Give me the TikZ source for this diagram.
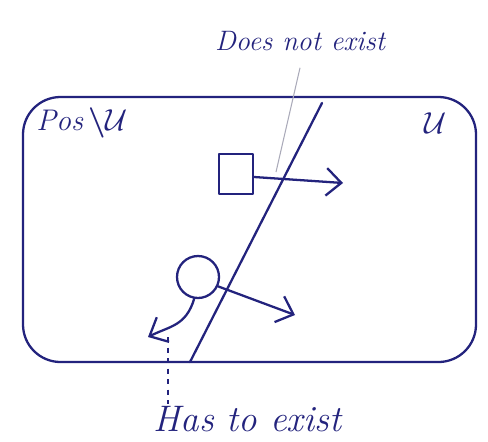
\documentclass[tikz,border=0pt]{standalone}
\usepackage{amsmath,amssymb}
\usepackage{tikz}
\usetikzlibrary{arrows.meta, positioning, calc}
\usepackage{xcolor}
\definecolor{inkblue}{RGB}{35,35,125}
\definecolor{pencilgray}{RGB}{170,170,185}

\begin{document}
\begin{tikzpicture}[
    ink/.style={draw=inkblue, line width=1.3pt, line cap=round, line join=round},
    arr/.style={ink, -{Straight Barb[length=3mm, width=5.5mm, line width=1.3pt]}},
    hand/.style={text=inkblue, font=\itshape\fontsize{#1}{#1}\selectfont, inner sep=1pt},
    hand/.default=17,
]
    \useasboundingbox (0,0) rectangle (9.76,8.82);

    % Region U with the excluded part
    \draw[ink, rounded corners=0.75cm] (0.46,6.88) rectangle (9.52,1.58);
    \node[hand] (posu) at (1.64,6.36) {Pos\,$\boldsymbol{\setminus}\mathcal{U}$};
    \node[hand=19] (uu) at (8.72,6.36) {$\mathcal{U}$};

    % Boundary line
    \coordinate (btop) at (6.44,6.76);
    \coordinate (bbot) at (3.80,1.58);
    \draw[ink] (btop) -- (bbot);

    % Square with arrow across the boundary
    \node[ink, rectangle, minimum width=0.68cm, minimum height=0.8cm] (sq) at (4.72,5.34) {};
    \coordinate (sqend) at (6.86,5.16);
    \draw[arr] (sq.east) ++(0,-0.06) -- (sqend);

    % Ball with two arrows
    \node[ink, circle, minimum size=0.84cm, inner sep=0pt] (ball) at (3.96,3.28) {};
    \coordinate (ballend) at (5.90,2.52);
    \coordinate (backend) at (2.96,2.08);
    \draw[arr] (ball.-25) -- (ballend);
    \draw[arr] (ball.-100) .. controls (3.72,2.30) and (3.40,2.30) .. (backend);

    % Labels
    \node[hand=16] (dne) at (6.0,8.0) {Does not exist};
    \coordinate (dnept) at (5.52,5.38);
    \draw[pencilgray, line width=0.6pt] ($(dne.south)+(0,-0.3)$) -- (dnept);

    \node[hand=21] (hte) at (4.95,0.44) {Has to exist};
    \coordinate (htept) at (3.36,2.08);
    \draw[inkblue, line width=0.6pt, dashed] (htept) -- (htept |- hte.north);
\end{tikzpicture}
\end{document}
